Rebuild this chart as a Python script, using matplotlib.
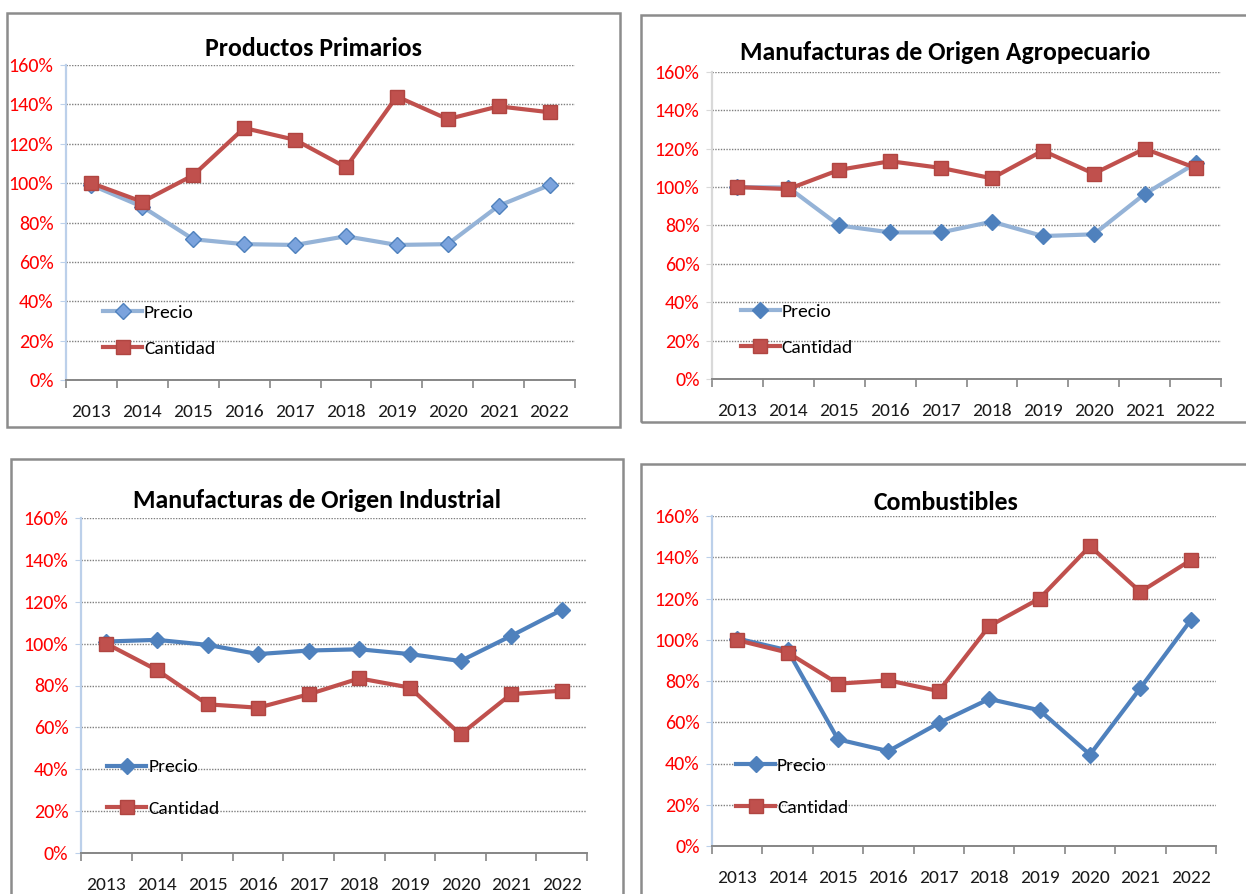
import matplotlib.pyplot as plt
from matplotlib.patches import Rectangle
import numpy as np

plt.rcParams['font.family'] = ['Carlito', 'Lato', 'DejaVu Sans']

years = ['2013', '2014', '2015', '2016', '2017', '2018', '2019', '2020', '2021', '2022']

# Productos Primarios
pp_precio = [99, 88, 71.5, 69, 68.6, 73, 68.6, 69, 88.5, 99]
pp_cantidad = [100, 90.5, 104, 128, 122, 108, 144, 132.5, 139, 136]

# Manufacturas de Origen Agropecuario
moa_precio = [100, 99.8, 80, 76.4, 76.4, 82, 74.5, 75.4, 96.4, 112.4]
moa_cantidad = [100, 99, 109, 113.5, 110, 104.6, 119, 107, 120, 110]

# Manufacturas de Origen Industrial
moi_precio = [101, 101.8, 99.4, 95, 96.7, 97.3, 95, 91.7, 103.7, 116.1]
moi_cantidad = [100, 87.4, 71, 69.4, 75.8, 83.4, 79, 56.6, 75.9, 77.5]

# Combustibles
comb_precio = [100.6, 94.9, 51.7, 46, 59.6, 71.3, 65.8, 44.3, 76.6, 109.5]
comb_cantidad = [99.8, 93.8, 78.7, 80.3, 75.1, 106.6, 120, 145.4, 123.2, 138.6]

W, H = 1246, 894
fig = plt.figure(figsize=(W / 100, H / 100), dpi=100)


def px_axes(l, r, t, b):
    return fig.add_axes([l / W, 1 - b / H, (r - l) / W, (b - t) / H])


def frame(l, r, t, b):
    fig.patches.append(Rectangle((l / W, 1 - b / H), (r - l) / W, (b - t) / H,
                                 transform=fig.transFigure, fill=False,
                                 edgecolor='#8C8C8C', lw=1.8, zorder=0))


def panel(box, fbox, title, title_y, precio, cantidad, p_line, p_mk, p_edge,
          yspine, leg_xy, leg_space):
    frame(*fbox)
    ax = px_axes(*box)
    x = np.arange(len(years))
    ax.plot(x, precio, color=p_line, lw=3, marker='D', ms=8,
            mfc=p_mk, mec=p_edge, mew=1, label='Precio', zorder=3)
    ax.plot(x, cantidad, color='#C0504D', lw=3, marker='s', ms=10,
            mfc='#C0504D', mec='#B04541', label='Cantidad', zorder=4)
    ax.set_xlim(-0.5, 9.5)
    ax.set_ylim(0, 160)
    ax.set_yticks(np.arange(0, 161, 20))
    ax.set_yticklabels([f'{v}%' for v in range(0, 161, 20)])
    ax.tick_params(axis='y', colors=yspine, labelcolor='#FF0000',
                   labelsize=14.5, length=4, pad=5)
    ax.set_xticks(np.arange(-0.5, 10, 1))
    ax.set_xticklabels([])
    ax.set_xticks(x, minor=True)
    ax.set_xticklabels(years, minor=True)
    ax.tick_params(axis='x', which='major', colors='#868686', length=6, width=1.2)
    ax.tick_params(axis='x', which='minor', length=0, labelsize=14, pad=17,
                   labelcolor='#1A1A1A')
    ax.grid(axis='y', color='#7F7F7F', lw=1, linestyle=(0, (1, 1)))
    ax.set_axisbelow(True)
    for s in ['top', 'right']:
        ax.spines[s].set_visible(False)
    ax.spines['left'].set_color(yspine)
    ax.spines['left'].set_linewidth(1.6)
    ax.spines['bottom'].set_color('#868686')
    ax.spines['bottom'].set_linewidth(1.4)
    ax.legend(loc='center left', bbox_to_anchor=leg_xy, frameon=False,
              fontsize=14, handlelength=2.0, handletextpad=0.1,
              borderpad=0, borderaxespad=0, labelspacing=leg_space)
    cx = (fbox[0] + min(fbox[1], W + 4)) / 2
    fig.text(cx / W, 1 - title_y / H, title, ha='center', va='center',
             fontsize=18.5, fontweight='bold')
    return ax


panel((66, 575, 65, 380), (7, 620, 13, 427), 'Productos Primarios', 48,
      pp_precio, pp_cantidad, '#95B3D7', '#7BA3DD', '#4F81BD', '#BCD0EA',
      (0.073, 0.156), 1.0)
panel((712, 1221, 72, 379), (641, 1250, 15, 422),
      'Manufacturas de Origen Agropecuario', 52,
      moa_precio, moa_cantidad, '#95B3D7', '#4F81BD', '#4F81BD', '#D9D9D9',
      (0.057, 0.161), 1.0)
panel((81, 587, 518, 853), (11, 623, 459, 900),
      'Manufacturas de Origen Industrial', 500,
      moi_precio, moi_cantidad, '#4F81BD', '#4F81BD', '#4F81BD', '#BCD0EA',
      (0.052, 0.194), 1.3)
panel((712, 1216, 516, 846), (641, 1250, 464, 900), 'Combustibles', 502,
      comb_precio, comb_cantidad, '#4F81BD', '#4F81BD', '#4F81BD', '#BCD0EA',
      (0.048, 0.179), 1.3)

fig.savefig('out.png', dpi=100)
